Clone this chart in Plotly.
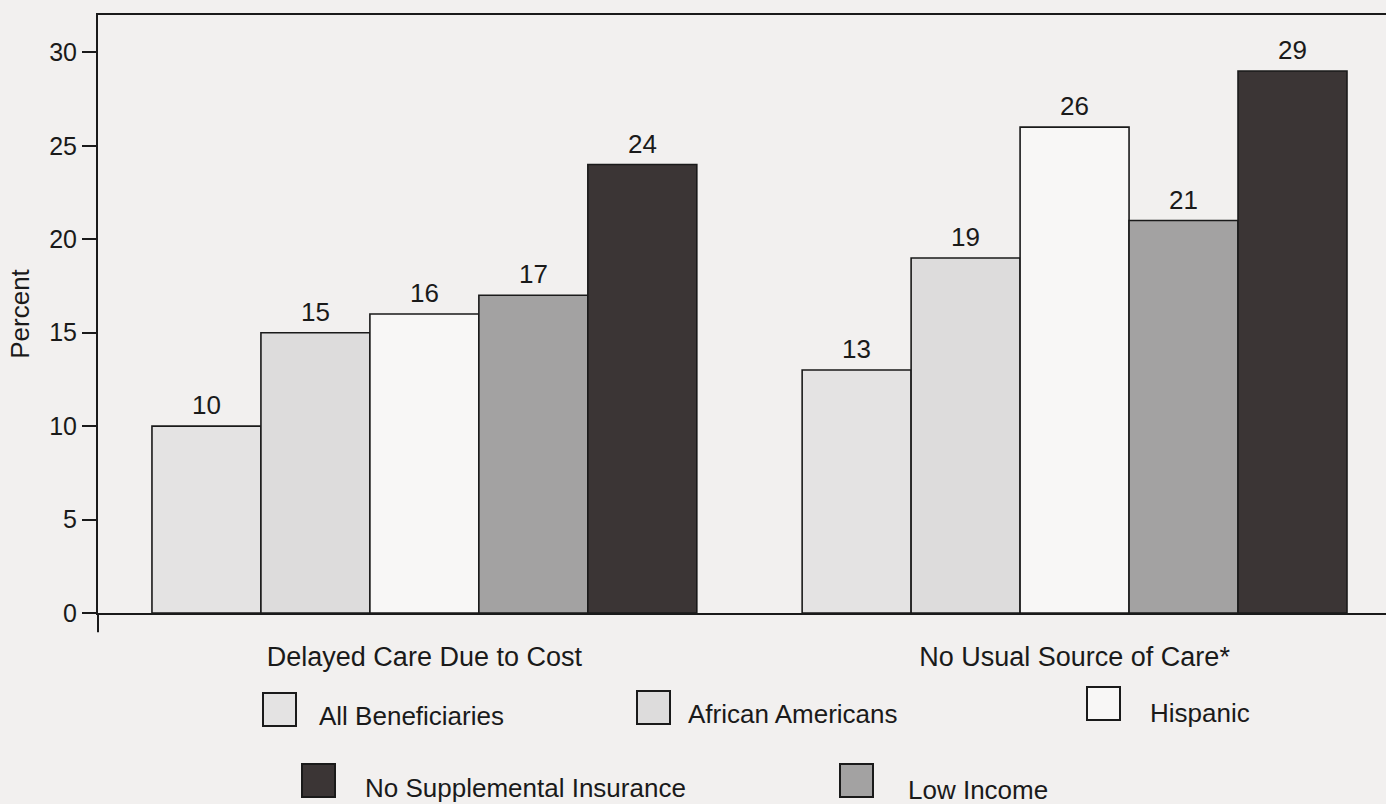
import plotly.graph_objects as go

categories = ["Delayed Care Due to Cost", "No Usual Source of Care*"]
series_names = ["All Beneficiaries", "African Americans", "Hispanic", "Low Income", "No Supplemental Insurance"]
all_benef = [10, 13]
african_am = [15, 19]
hispanic = [16, 26]
low_income = [17, 21]
no_supp = [24, 29]
y_ticks = [0, 5, 10, 15, 20, 25, 30]

values = [all_benef, african_am, hispanic, low_income, no_supp]
colors = ["#e4e3e3", "#dddcdc", "#f8f7f6", "#a3a2a2", "#3b3535"]

BG = "#f2f0ef"
INK = "#1a1a1a"
FONT = "Liberation Sans, Arial, sans-serif"

W, H = 1386, 804
ML, MR, MT, MB = 98, 0, 15, 191
X_RANGE = [-0.502, 1.479]
BARGAP = 0.162
n_series = len(series_names)
pw = W - ML - MR
ph = H - MT - MB
bar_px = (1 - BARGAP) / n_series * pw / (X_RANGE[1] - X_RANGE[0])

fig = go.Figure()
for i, (name, vals, col) in enumerate(zip(series_names, values, colors)):
    fig.add_trace(go.Bar(
        x=categories, y=vals, name=name,
        marker=dict(color=col, line=dict(color=INK, width=1.6)),
        showlegend=False,
    ))
    for cat, v in zip(categories, vals):
        fig.add_annotation(x=cat, y=v, text=str(v), showarrow=False,
                           xshift=(i - (n_series - 1) / 2) * bar_px, yshift=4,
                           yanchor="bottom", font=dict(size=26, family=FONT, color=INK))

fig.update_layout(
    width=W, height=H,
    paper_bgcolor=BG, plot_bgcolor=BG,
    margin=dict(l=ML, r=MR, t=MT, b=MB),
    barmode="group", bargap=BARGAP, bargroupgap=0,
    font=dict(family=FONT, size=26, color=INK),
    xaxis=dict(
        type="category", range=X_RANGE,
        showline=True, linecolor=INK, linewidth=2, mirror=True,
        ticks="", showgrid=False, zeroline=False,
        tickfont=dict(size=27), ticklabelstandoff=19,
    ),
    yaxis=dict(
        range=[0, 32], tickvals=y_ticks,
        showline=True, linecolor=INK, linewidth=2,
        ticks="outside", ticklen=14, tickwidth=1.5, tickcolor=INK,
        showgrid=False, zeroline=False, tickfont=dict(size=25),
        title=dict(text="Percent", font=dict(size=26), standoff=12),
    ),
)

# extension of the left axis below the baseline
fig.add_shape(type="line", xref="paper", yref="paper", x0=0, x1=0, y0=0, y1=-0.032,
              line=dict(color=INK, width=2))

# custom legend layout (pixel positions in the page)
legend_pos = [  # (box left, box top, text left, text center y)
    (263, 693, 317, 716),
    (637, 691, 686, 714),
    (1087, 687, 1148, 713),
    (840, 764, 906, 790),
    (302, 764, 363, 788),
]
box_w, box_h = 33, 33
for (bx, by, tx, ty), name, col in zip(legend_pos, series_names, colors):
    fig.add_shape(type="rect", xref="paper", yref="paper",
                  x0=(bx - ML) / pw, x1=(bx + box_w - ML) / pw,
                  y0=1 - (by - MT) / ph, y1=1 - (by + box_h - MT) / ph,
                  fillcolor=col, line=dict(color=INK, width=2))
    fig.add_annotation(xref="paper", yref="paper", x=(tx - ML) / pw, y=1 - (ty - MT) / ph,
                       text=name, showarrow=False, xanchor="left", yanchor="middle",
                       font=dict(size=26, family=FONT, color=INK))

fig.write_html("out.html")
